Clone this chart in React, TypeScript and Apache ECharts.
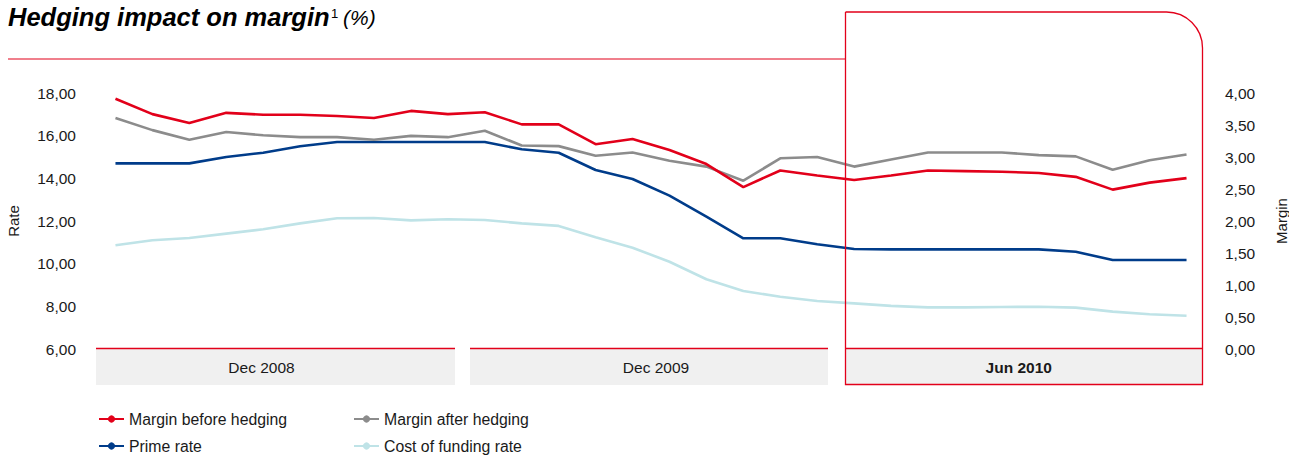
import React, { useEffect, useRef } from "react";
import * as echarts from "echarts";

const periods = [
  "P01", "P02", "P03", "P04", "P05", "P06", "P07", "P08", "P09", "P10",
  "P11", "P12", "P13", "P14", "P15", "P16", "P17", "P18", "P19", "P20",
  "P21", "P22", "P23", "P24", "P25", "P26", "P27", "P28", "P29", "P30",
];
const groupLabels = ["Dec 2008", "Dec 2009", "Jun 2010"];

const marginBefore = [
  3.91, 3.67, 3.53, 3.69, 3.66, 3.66, 3.64, 3.61, 3.72, 3.67,
  3.70, 3.51, 3.51, 3.20, 3.28, 3.11, 2.89, 2.53, 2.79, 2.71,
  2.64, 2.71, 2.79, 2.78, 2.77, 2.75, 2.69, 2.49, 2.60, 2.67,
];
const marginAfter = [
  3.61, 3.42, 3.27, 3.39, 3.34, 3.31, 3.31, 3.27, 3.33, 3.31,
  3.41, 3.18, 3.17, 3.02, 3.07, 2.94, 2.85, 2.63, 2.98, 3.00,
  2.85, 2.96, 3.07, 3.07, 3.07, 3.03, 3.01, 2.80, 2.95, 3.04,
];
const primeRate = [
  14.7, 14.7, 14.7, 15.0, 15.2, 15.5, 15.7, 15.7, 15.7, 15.7,
  15.7, 15.36, 15.2, 14.39, 13.97, 13.19, 12.2, 11.19, 11.19, 10.91,
  10.69, 10.67, 10.67, 10.67, 10.67, 10.67, 10.56, 10.17, 10.17, 10.17,
];
const costOfFunding = [
  10.86, 11.10, 11.20, 11.41, 11.61, 11.89, 12.13, 12.14, 12.03, 12.08,
  12.05, 11.89, 11.77, 11.24, 10.75, 10.09, 9.27, 8.72, 8.45, 8.25,
  8.14, 8.02, 7.95, 7.95, 7.97, 7.98, 7.94, 7.75, 7.63, 7.56,
];

const FONT = '"Liberation Sans", Arial, sans-serif';
const RED = "#e2001a";
const GRAY = "#8c8c8c";
const BLUE = "#003c8a";
const LIGHT = "#bfe3e7";
const TXT = "#1a1a1a";

const fmt = (v: number) => v.toFixed(2).replace(".", ",");

export default function App() {
  const ref = useRef<HTMLDivElement>(null);
  useEffect(() => {
    if (!ref.current) return;
    const chart = echarts.init(ref.current, null, { renderer: "svg" });
    const bands = [
      { x: 96, w: 359, bold: false, dx: -14 },
      { x: 470, w: 358, bold: false, dx: 7 },
      { x: 845, w: 357.5, bold: true, dx: -5 },
    ];
    const graphics: any[] = [];
    bands.forEach((b, i) => {
      graphics.push({
        type: "rect",
        shape: { x: b.x, y: 349, width: b.w, height: 36 },
        style: { fill: "#f0f0f0" },
        z: 1,
      });
      graphics.push({
        type: "line",
        shape: { x1: b.x, y1: 348.5, x2: b.x + b.w, y2: 348.5 },
        style: { stroke: RED, lineWidth: 1.5 },
        z: 2,
      });
      graphics.push({
        type: "text",
        x: b.x + b.w / 2 + b.dx,
        y: 367.5,
        style: {
          text: groupLabels[i],
          font: `${b.bold ? "bold " : ""}15.5px ${FONT}`,
          fill: TXT,
          align: "center",
          verticalAlign: "middle",
        },
        z: 3,
      });
    });
    graphics.push(
      {
        type: "text",
        x: 8,
        y: 17,
        style: {
          text: "Hedging impact on margin",
          font: `italic bold 25.5px ${FONT}`,
          fill: "#000",
          verticalAlign: "middle",
        },
      },
      {
        type: "text",
        x: 331,
        y: 13,
        style: {
          text: "1",
          font: `13px ${FONT}`,
          fill: "#000",
          verticalAlign: "middle",
        },
      },
      {
        type: "text",
        x: 343,
        y: 17.5,
        style: {
          text: "(%)",
          font: `italic 21px ${FONT}`,
          fill: "#000",
          verticalAlign: "middle",
        },
      },
      {
        type: "text",
        x: 1281,
        y: 221,
        rotation: Math.PI / 2,
        style: {
          text: "Margin",
          font: `15px ${FONT}`,
          fill: TXT,
          align: "center",
          verticalAlign: "middle",
        },
      },
      {
        type: "line",
        shape: { x1: 8, y1: 59, x2: 845, y2: 59 },
        style: { stroke: RED, lineWidth: 1.2 },
      },
      {
        type: "rect",
        shape: { x: 845.5, y: 12, width: 357, height: 372.5, r: [0, 36, 0, 0] },
        style: { fill: "none", stroke: RED, lineWidth: 1.3 },
        z: 20,
      }
    );

    const legendItem = (name: string, left: number, top: number) => ({
      left,
      top,
      padding: 0,
      itemWidth: 25,
      itemHeight: 9,
      itemGap: 0,
      data: [name],
      textStyle: { fontFamily: FONT, fontSize: 15.8, color: TXT },
    });

    chart.setOption({
      animation: false,
      textStyle: { fontFamily: FONT },
      grid: {
        left: 97,
        right: 84,
        top: 93,
        bottom: 106,
        containLabel: false,
        outerBoundsMode: "none",
      },
      legend: [
        legendItem("Margin before hedging", 98, 411),
        legendItem("Margin after hedging", 353, 411),
        legendItem("Prime rate", 98, 438),
        legendItem("Cost of funding rate", 353, 438),
      ],
      xAxis: {
        type: "category",
        data: periods,
        boundaryGap: true,
        show: false,
      },
      yAxis: [
        {
          type: "value",
          min: 6,
          max: 18,
          interval: 2,
          name: "Rate",
          nameLocation: "middle",
          nameRotate: 90,
          nameGap: 76,
          nameMoveOverlap: false,
          nameTextStyle: { fontFamily: FONT, fontSize: 15, color: TXT },
          axisLine: { show: false },
          axisTick: { show: false },
          splitLine: { show: false },
          axisLabel: {
            formatter: fmt,
            margin: 21,
            fontFamily: FONT,
            fontSize: 15.5,
            color: TXT,
          },
        },
        {
          type: "value",
          min: 0,
          max: 4,
          interval: 0.5,
          axisLine: { show: false },
          axisTick: { show: false },
          splitLine: { show: false },
          axisLabel: {
            formatter: fmt,
            margin: 20,
            fontFamily: FONT,
            fontSize: 15.5,
            color: TXT,
          },
        },
      ],
      series: [
        {
          name: "Cost of funding rate",
          type: "line",
          yAxisIndex: 0,
          data: costOfFunding,
          symbol: "circle",
          symbolSize: 8,
          showSymbol: false,
          color: LIGHT,
          lineStyle: { width: 2.6, color: LIGHT },
          z: 3,
        },
        {
          name: "Prime rate",
          type: "line",
          yAxisIndex: 0,
          data: primeRate,
          symbol: "circle",
          symbolSize: 8,
          showSymbol: false,
          color: BLUE,
          lineStyle: { width: 2.6, color: BLUE },
          z: 4,
        },
        {
          name: "Margin after hedging",
          type: "line",
          yAxisIndex: 1,
          data: marginAfter,
          symbol: "circle",
          symbolSize: 8,
          showSymbol: false,
          color: GRAY,
          lineStyle: { width: 2.6, color: GRAY },
          z: 5,
        },
        {
          name: "Margin before hedging",
          type: "line",
          yAxisIndex: 1,
          data: marginBefore,
          symbol: "circle",
          symbolSize: 8,
          showSymbol: false,
          color: RED,
          lineStyle: { width: 2.6, color: RED },
          z: 6,
        },
      ],
      graphic: graphics,
    });
    return () => chart.dispose();
  }, []);
  return (
    <div
      ref={ref}
      style={{ position: "fixed", left: 0, top: 0, width: 1289, height: 455, background: "#fff" }}
    />
  );
}
